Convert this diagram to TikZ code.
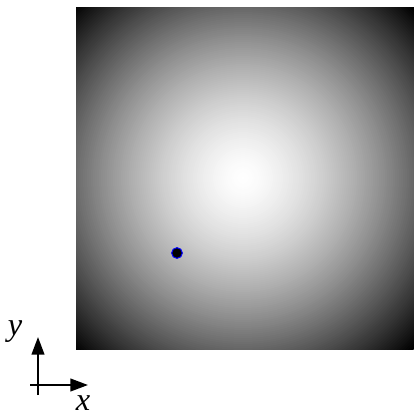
\documentclass[tikz,border=0pt]{standalone}
\usepackage{fontspec}
\newfontfamily\lblfont{Liberation Serif Italic}
\usepackage{tikz}
\usetikzlibrary{arrows.meta}

\begin{document}
\begin{tikzpicture}[
    x=0.025cm, y=-0.025cm,
    axis/.style={-{Triangle[length=12.5pt, width=9pt]}, line width=1.4pt},
    marker/.style={circle, fill=black, draw=blue, line width=0.7pt, inner sep=0pt, minimum size=7.6pt},
    lbl/.style={font=\fontsize{23}{26}\lblfont, inner sep=0pt}
]
\useasboundingbox (0,0) rectangle (414,416);

% gradient field, bright centre fading to black corners
\coordinate (ctr) at (243,178);
\begin{scope}
  \clip (76,7) rectangle (414,349);
  \fill[black] (76,7) rectangle (414,349);
  \foreach \r in {242,240,...,2} {
    \pgfmathsetmacro\lev{max(0,100*(1-(\r/242)^1.5))}
    \fill[white!\lev!black] (ctr) circle (\r);
  }
\end{scope}

\node[marker] (pt) at (177,253) {};

% axes
\coordinate (ybase) at (38,395);
\coordinate (xbase) at (30,385);
\coordinate (ytip) at (38,337);
\coordinate (xtip) at (88,385);
\draw[axis] (ybase) -- (ytip);
\draw[axis] (xbase) -- (xtip);
\node[lbl] (ylab) at (15,332) {y};
\node[lbl] (xlab) at (83,403) {x};

\end{tikzpicture}
\end{document}
